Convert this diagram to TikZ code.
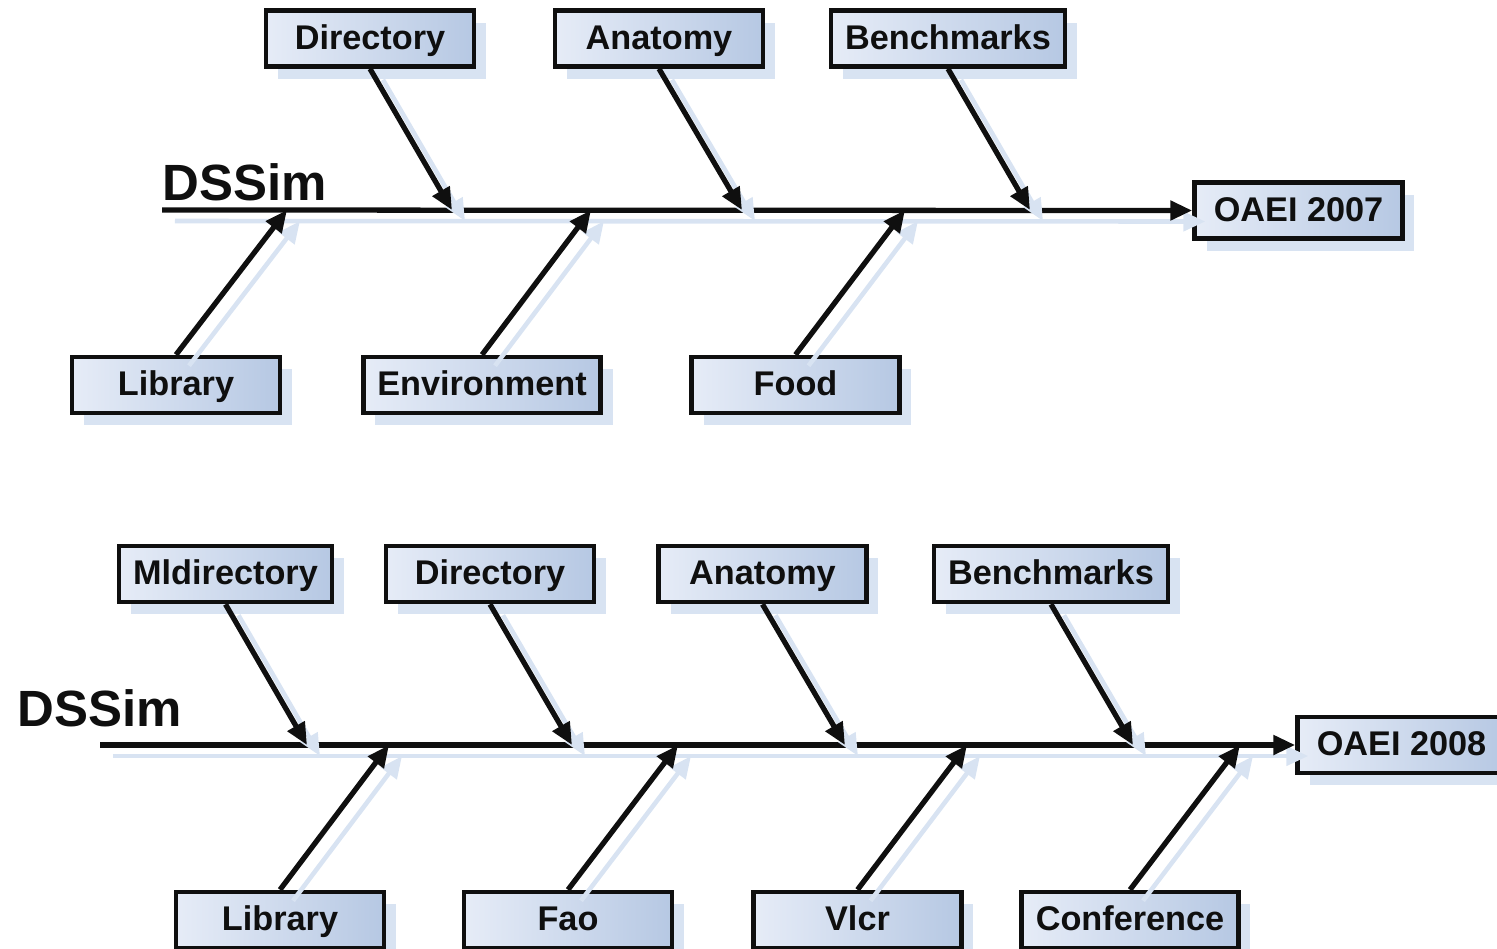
\documentclass[tikz,border=0pt]{standalone}
\usepackage{fontspec}
\setmainfont{Liberation Sans}
\usetikzlibrary{arrows.meta, shadows, positioning}
\definecolor{boxlight}{RGB}{230,236,247}
\definecolor{boxdark}{RGB}{182,200,227}
\definecolor{shadowblue}{RGB}{216,227,242}
\definecolor{inkblack}{RGB}{15,15,15}

\begin{document}
\begin{tikzpicture}[x=0.02cm,y=-0.02cm,
  fishbox/.style={draw=inkblack, line width=2.6pt, left color=boxlight, right color=boxdark,
    minimum width=4.16cm, minimum height=1.12cm, inner xsep=0.28cm,
    text height=15pt, text depth=3pt,
    font=\fontsize{19.5}{22}\selectfont\bfseries, text=inkblack,
    general shadow={shadow xshift=0.24cm, shadow yshift=-0.24cm, fill=shadowblue}},
  bone/.style={line width=3pt, draw=inkblack, -{Triangle[length=0.44cm,width=0.38cm]},
    preaction={draw=shadowblue, line width=2.6pt, -{Triangle[length=0.44cm,width=0.38cm]},
      transform canvas={shift={(0.26cm,-0.22cm)}}}},
  title/.style={font=\fontsize{29}{32}\selectfont\bfseries, text=inkblack,
    inner sep=0pt, anchor=base west}]
\useasboundingbox (0,0) rectangle (1497,948);

% OAEI 2007
\node[title] (simA) at (162,200) {DSSim};
\foreach \nm/\cx/\cy/\lbl in {dirA/370/38.5/Directory, anaA/659/38.5/Anatomy,
    benA/948/38.5/Benchmarks, libA/176/385/Library, envA/482/385/Environment,
    fooA/795.5/385/Food, oaeiA/1298.5/210.5/OAEI 2007}
  \node[fishbox] (\nm) at (\cx,\cy) {\lbl};

\coordinate (tailA) at (162,210);
\foreach \nm/\hx in {hA1/452, hA2/742, hA3/1030, hA4/287, hA5/591, hA6/905}
  \coordinate (\nm) at (\hx,210);

\draw[bone] (tailA) -- (oaeiA.west);
\foreach \from/\to in {dirA/hA1, anaA/hA2, benA/hA3}
  \draw[bone] (\from.south) -- (\to);
\foreach \from/\to in {libA/hA4, envA/hA5, fooA/hA6}
  \draw[bone] (\from.north) -- (\to);

% OAEI 2008
\node[title] (simB) at (17,726) {DSSim};
\foreach \nm/\cx/\cy/\lbl in {mldB/225.5/574/Mldirectory, dirB/490/574/Directory,
    anaB/762.5/574/Anatomy, benB/1051/574/Benchmarks, libB/280/920/Library,
    faoB/568/920/Fao, vlcB/857.5/920/Vlcr, conB/1130/920/Conference,
    oaeiB/1401.5/745/OAEI 2008}
  \node[fishbox] (\nm) at (\cx,\cy) {\lbl};

\coordinate (tailB) at (100,745);
\foreach \nm/\hx in {hB1/307, hB2/572, hB3/845, hB4/1133, hB5/389, hB6/678, hB7/967, hB8/1240}
  \coordinate (\nm) at (\hx,745);

\draw[bone] (tailB) -- (oaeiB.west);
\foreach \from/\to in {mldB/hB1, dirB/hB2, anaB/hB3, benB/hB4}
  \draw[bone] (\from.south) -- (\to);
\foreach \from/\to in {libB/hB5, faoB/hB6, vlcB/hB7, conB/hB8}
  \draw[bone] (\from.north) -- (\to);
\end{tikzpicture}
\end{document}
